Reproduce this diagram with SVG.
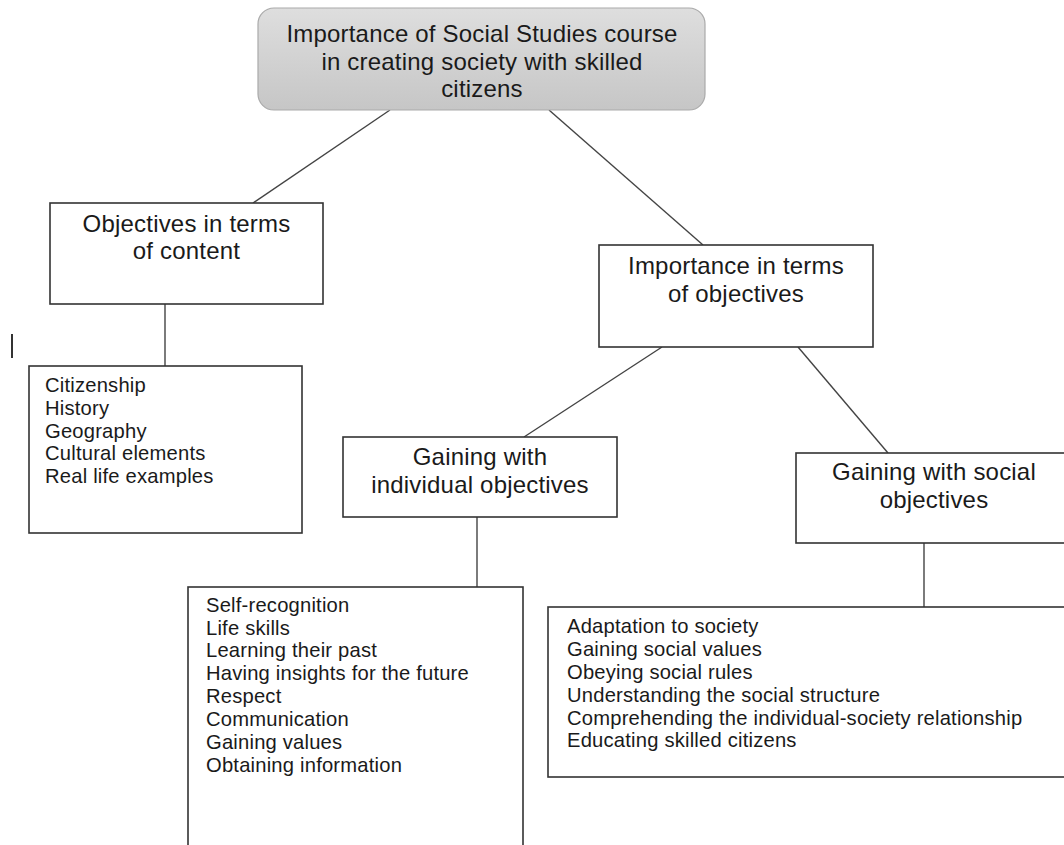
<svg xmlns="http://www.w3.org/2000/svg" width="1064" height="845" viewBox="0 0 1064 845">
<defs>
<linearGradient id="topfill" x1="0" y1="0" x2="0" y2="1">
<stop offset="0" stop-color="#dedede"/>
<stop offset="1" stop-color="#c6c6c6"/>
</linearGradient>
<style>
.box{fill:#ffffff;stroke:#333333;stroke-width:1.6}
.head{font-family:"Liberation Sans",Arial,sans-serif;font-size:24px;letter-spacing:0.2px;fill:#1a1a1a;text-anchor:middle}
.list{font-family:"Liberation Sans",Arial,sans-serif;font-size:20.2px;letter-spacing:0.2px;fill:#1a1a1a}
.conn{stroke:#444444;stroke-width:1.4;fill:none}
</style>
</defs>
<rect width="1064" height="845" fill="#ffffff"/>
<g id="connectors">
<line class="conn" x1="390" y1="110" x2="253" y2="203"/>
<line class="conn" x1="549" y1="110" x2="703" y2="245"/>
<line class="conn" x1="165" y1="304" x2="165" y2="366"/>
<line class="conn" x1="662" y1="347" x2="524" y2="437"/>
<line class="conn" x1="798" y1="347" x2="888" y2="453"/>
<line class="conn" x1="477" y1="517" x2="477" y2="587"/>
<line class="conn" x1="924" y1="543" x2="924" y2="607"/>
</g>
<g id="mark">
<line x1="12" y1="334" x2="12" y2="358" stroke="#333333" stroke-width="2"/>
</g>
<g id="root">
<rect x="258" y="8" width="447" height="102" rx="16" fill="url(#topfill)" stroke="#aaaaaa" stroke-width="1.2"/>
<text class="head" x="482" y="42"><tspan x="482">Importance of Social Studies course</tspan><tspan x="482" dy="27.5">in creating society with skilled</tspan><tspan x="482" dy="27.5">citizens</tspan></text>
</g>
<g id="content">
<rect class="box" x="50" y="203" width="273" height="101"/>
<text class="head" x="186.5" y="232"><tspan x="186.5">Objectives in terms</tspan><tspan x="186.5" dy="27">of content</tspan></text>
</g>
<g id="content-list">
<rect class="box" x="29" y="366" width="273" height="167"/>
<text class="list" x="45" y="392"><tspan x="45">Citizenship</tspan><tspan x="45" dy="22.8">History</tspan><tspan x="45" dy="22.8">Geography</tspan><tspan x="45" dy="22.8">Cultural elements</tspan><tspan x="45" dy="22.8">Real life examples</tspan></text>
</g>
<g id="objectives">
<rect class="box" x="599" y="245" width="274" height="102"/>
<text class="head" x="736" y="273.5"><tspan x="736">Importance in terms</tspan><tspan x="736" dy="28">of objectives</tspan></text>
</g>
<g id="individual">
<rect class="box" x="343" y="437" width="274" height="80"/>
<text class="head" x="480" y="465"><tspan x="480">Gaining with</tspan><tspan x="480" dy="28">individual objectives</tspan></text>
</g>
<g id="individual-list">
<rect class="box" x="188" y="587" width="335" height="280"/>
<text class="list" x="206" y="611.7"><tspan x="206">Self-recognition</tspan><tspan x="206" dy="22.86">Life skills</tspan><tspan x="206" dy="22.86">Learning their past</tspan><tspan x="206" dy="22.86">Having insights for the future</tspan><tspan x="206" dy="22.86">Respect</tspan><tspan x="206" dy="22.86">Communication</tspan><tspan x="206" dy="22.86">Gaining values</tspan><tspan x="206" dy="22.86">Obtaining information</tspan></text>
</g>
<g id="social">
<rect class="box" x="796" y="453" width="280" height="90"/>
<text class="head" x="934" y="480"><tspan x="934">Gaining with social</tspan><tspan x="934" dy="28">objectives</tspan></text>
</g>
<g id="social-list">
<rect class="box" x="548" y="607" width="530" height="170"/>
<text class="list" x="567" y="633.3"><tspan x="567">Adaptation to society</tspan><tspan x="567" dy="22.8">Gaining social values</tspan><tspan x="567" dy="22.8">Obeying social rules</tspan><tspan x="567" dy="22.8">Understanding the social structure</tspan><tspan x="567" dy="22.8">Comprehending the individual-society relationship</tspan><tspan x="567" dy="22.8">Educating skilled citizens</tspan></text>
</g>
</svg>
